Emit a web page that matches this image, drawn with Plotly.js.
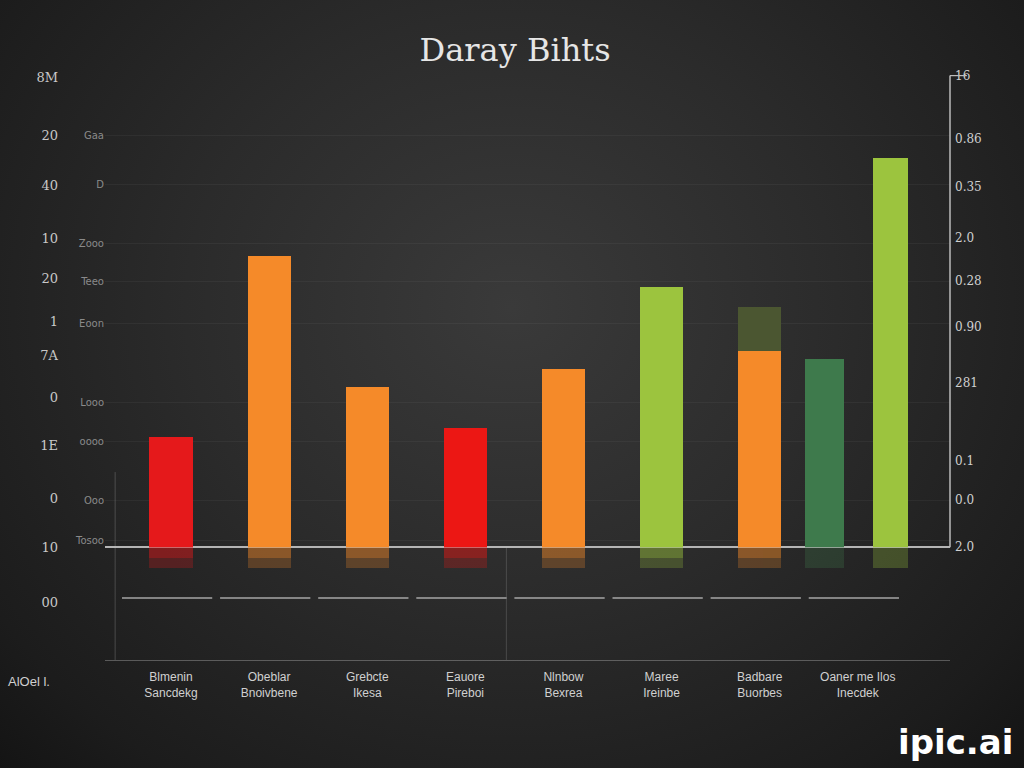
<!DOCTYPE html>
<html><head><meta charset="utf-8">
<script src="https://cdn.plot.ly/plotly-3.0.1.min.js"></script>
<style>
html,body{margin:0;padding:0;width:1024px;height:768px;overflow:hidden;
background:radial-gradient(ellipse at 50% 40%, #3a3a3a 0%, #2b2b2b 45%, #1c1c1c 85%, #141414 100%);}
#chart{width:1024px;height:768px;}
</style></head><body>
<div id="chart"></div>
<script>
// ---- data ----
const categories = ["Blmenin<br>Sancdekg","Obeblar<br>Bnoivbene","Grebcte<br>Ikesa","Eauore<br>Pireboi","Nlnbow<br>Bexrea","Maree<br>Ireinbe","Badbare<br>Buorbes","Oaner me Ilos<br>Inecdek"];
const mainValues = [23.5, 61.9, 34.1, 25.4, 37.9, 55.3, 41.7];
const mainColors = ["#e5191b","#f58a29","#f58a29","#ec1714","#f58a29","#9cc43e","#f58a29"];
const oliveExtra = [9.4];          // dark olive on top of bar 7
const darkGreenValue = [40.0];     // category 8, left bar
const lightGreenValue = [82.8];    // category 8, right bar
const leftNumVals = [100, 87.7, 77.1, 65.7, 57.2, 48.1, 40.9, 31.8, 21.6, 10.4, 0, -11.7];
const leftNumText = ["8M","20","40","10","20","1","7A","0","1E","0","10","00"];
const leftWordVals = [87.7, 77.1, 64.6, 56.6, 47.7, 30.7, 22.5, 10.0, 1.5];
const leftWordText = ["Gaa","D","Zooo","Teeo","Eoon","Looo","oooo","Ooo","Tosoo"];
const rightVals = [100.4, 86.9, 76.7, 65.9, 56.6, 47.0, 35.0, 18.4, 10.0, 0];
const rightText = ["16","0.86","0.35","2.0","0.28","0.90","281","0.1","0.0","2.0"];
const titleText = "Daray Bihts";
const cornerLabel = "AlOel l.";
const watermark = "ipic.ai";

const catMain = categories.slice(0,7);
const lastCat = categories[7];

const traces = [];
// reflections
const reflect = (x, col, op, val, w, off) => {
  const t = {type:"bar", x:x, y:x.map(()=>val), marker:{color:col}, opacity:op,
    width:w, hoverinfo:"skip", showlegend:false};
  if (off !== undefined) t.offset = off;
  return t;
};
traces.push(reflect(catMain, mainColors, 0.25, -4.5, 0.44));
traces.push(reflect(catMain, mainColors, 0.3, -2.2, 0.44));
traces.push(reflect([lastCat], "#3f7a4d", 0.28, -4.5, 0.40, -0.54));
traces.push(reflect([lastCat], "#9cc43e", 0.28, -4.5, 0.36, 0.15));

traces.push({type:"bar", x:catMain, y:mainValues, marker:{color:mainColors}, width:0.44, showlegend:false});
traces.push({type:"bar", x:[catMain[6]], y:oliveExtra, base:[mainValues[6]], marker:{color:"#4b5631"}, width:0.44, showlegend:false});
traces.push({type:"bar", x:[lastCat], y:darkGreenValue, marker:{color:"#3e7a4c"}, width:0.40, offset:-0.54, showlegend:false});
traces.push({type:"bar", x:[lastCat], y:lightGreenValue, marker:{color:"#9cc43e"}, width:0.36, offset:0.15, showlegend:false});
// dummy traces to activate extra axes
traces.push({type:"scatter", x:[catMain[0]], y:[0], yaxis:"y2", mode:"markers", marker:{opacity:0}, hoverinfo:"skip", showlegend:false});
traces.push({type:"scatter", x:[catMain[0]], y:[0], yaxis:"y3", mode:"markers", marker:{opacity:0}, hoverinfo:"skip", showlegend:false});

const yr = [-24, 100.5];
const shapes = [];
// segmented lower line
for (let i = 0; i < 8; i++) {
  shapes.push({type:"line", xref:"x", yref:"y", x0:i-0.5, x1:i+0.42, y0:-10.8, y1:-10.8,
    line:{color:"rgba(210,210,210,0.75)", width:1.5}});
}
// right axis line
shapes.push({type:"line", xref:"paper", yref:"y", x0:1, x1:1, y0:0, y1:100.4, line:{color:"#bbbbbb", width:1.5}});
shapes.push({type:"line", xref:"paper", yref:"y", x0:1, x1:1.02, y0:100.4, y1:100.4, line:{color:"#bbbbbb", width:1.5}});
// left faint vertical
shapes.push({type:"line", xref:"paper", yref:"y", x0:0.012, x1:0.012, y0:16, y1:-24, line:{color:"rgba(200,200,200,0.25)", width:1}});
shapes.push({type:"line", xref:"paper", yref:"y", x0:0.475, x1:0.475, y0:0, y1:-24, line:{color:"rgba(200,200,200,0.2)", width:1}});

const layout = {
  width:1024, height:768,
  paper_bgcolor:"rgba(0,0,0,0)", plot_bgcolor:"rgba(0,0,0,0)",
  margin:{l:105, r:74, t:75, b:108},
  barmode:"overlay",
  bargap:0,
  title:{text:titleText, x:0.503, xref:"container", y:0.935, yref:"container", yanchor:"middle",
    font:{family:"DejaVu Serif", size:32, color:"#e6e6e6"}},
  xaxis:{type:"category", range:[-0.673, 7.94], showgrid:false, zeroline:false,
    showline:true, linecolor:"rgba(200,200,200,0.35)", linewidth:1,
    ticks:"", tickfont:{family:"Liberation Sans", size:12, color:"#d0d0d0"}, ticklabelstandoff:6},
  yaxis:{range:yr, tickmode:"array", tickvals:leftWordVals, ticktext:leftWordText,
    tickfont:{family:"DejaVu Sans", size:10, color:"#8a8a8a"},
    showgrid:true, gridcolor:"rgba(255,255,255,0.045)",
    zeroline:true, zerolinecolor:"#b5b5b5", zerolinewidth:2, ticks:"", showline:false},
  yaxis2:{range:yr, overlaying:"y", side:"left", anchor:"x", tickmode:"array",
    tickvals:leftNumVals, ticktext:leftNumText, ticklabelstandoff:46,
    tickfont:{family:"DejaVu Serif", size:13, color:"#c8c8c8"},
    showgrid:false, zeroline:false, ticks:"", showline:false},
  yaxis3:{range:yr, overlaying:"y", side:"right", anchor:"x", tickmode:"array",
    tickvals:rightVals, ticktext:rightText, ticklabelstandoff:4,
    tickfont:{family:"DejaVu Serif", size:12, color:"#d0d0d0"},
    showgrid:false, zeroline:false, ticks:"", showline:false},
  shapes:shapes,
  annotations:[
    {text:cornerLabel, xref:"paper", yref:"paper", x:-0.09, y:-0.02, xanchor:"center", yanchor:"top",
      showarrow:false, font:{family:"Liberation Sans", size:13, color:"#d0d0d0"}},
    {text:"<b>"+watermark+"</b>", xref:"paper", yref:"paper", x:1.077, y:-0.14, xanchor:"right", yanchor:"middle",
      showarrow:false, font:{family:"DejaVu Sans", size:34, color:"#ffffff"}}
  ]
};
Plotly.newPlot("chart", traces, layout, {displayModeBar:false, staticPlot:true});
</script>
</body></html>
